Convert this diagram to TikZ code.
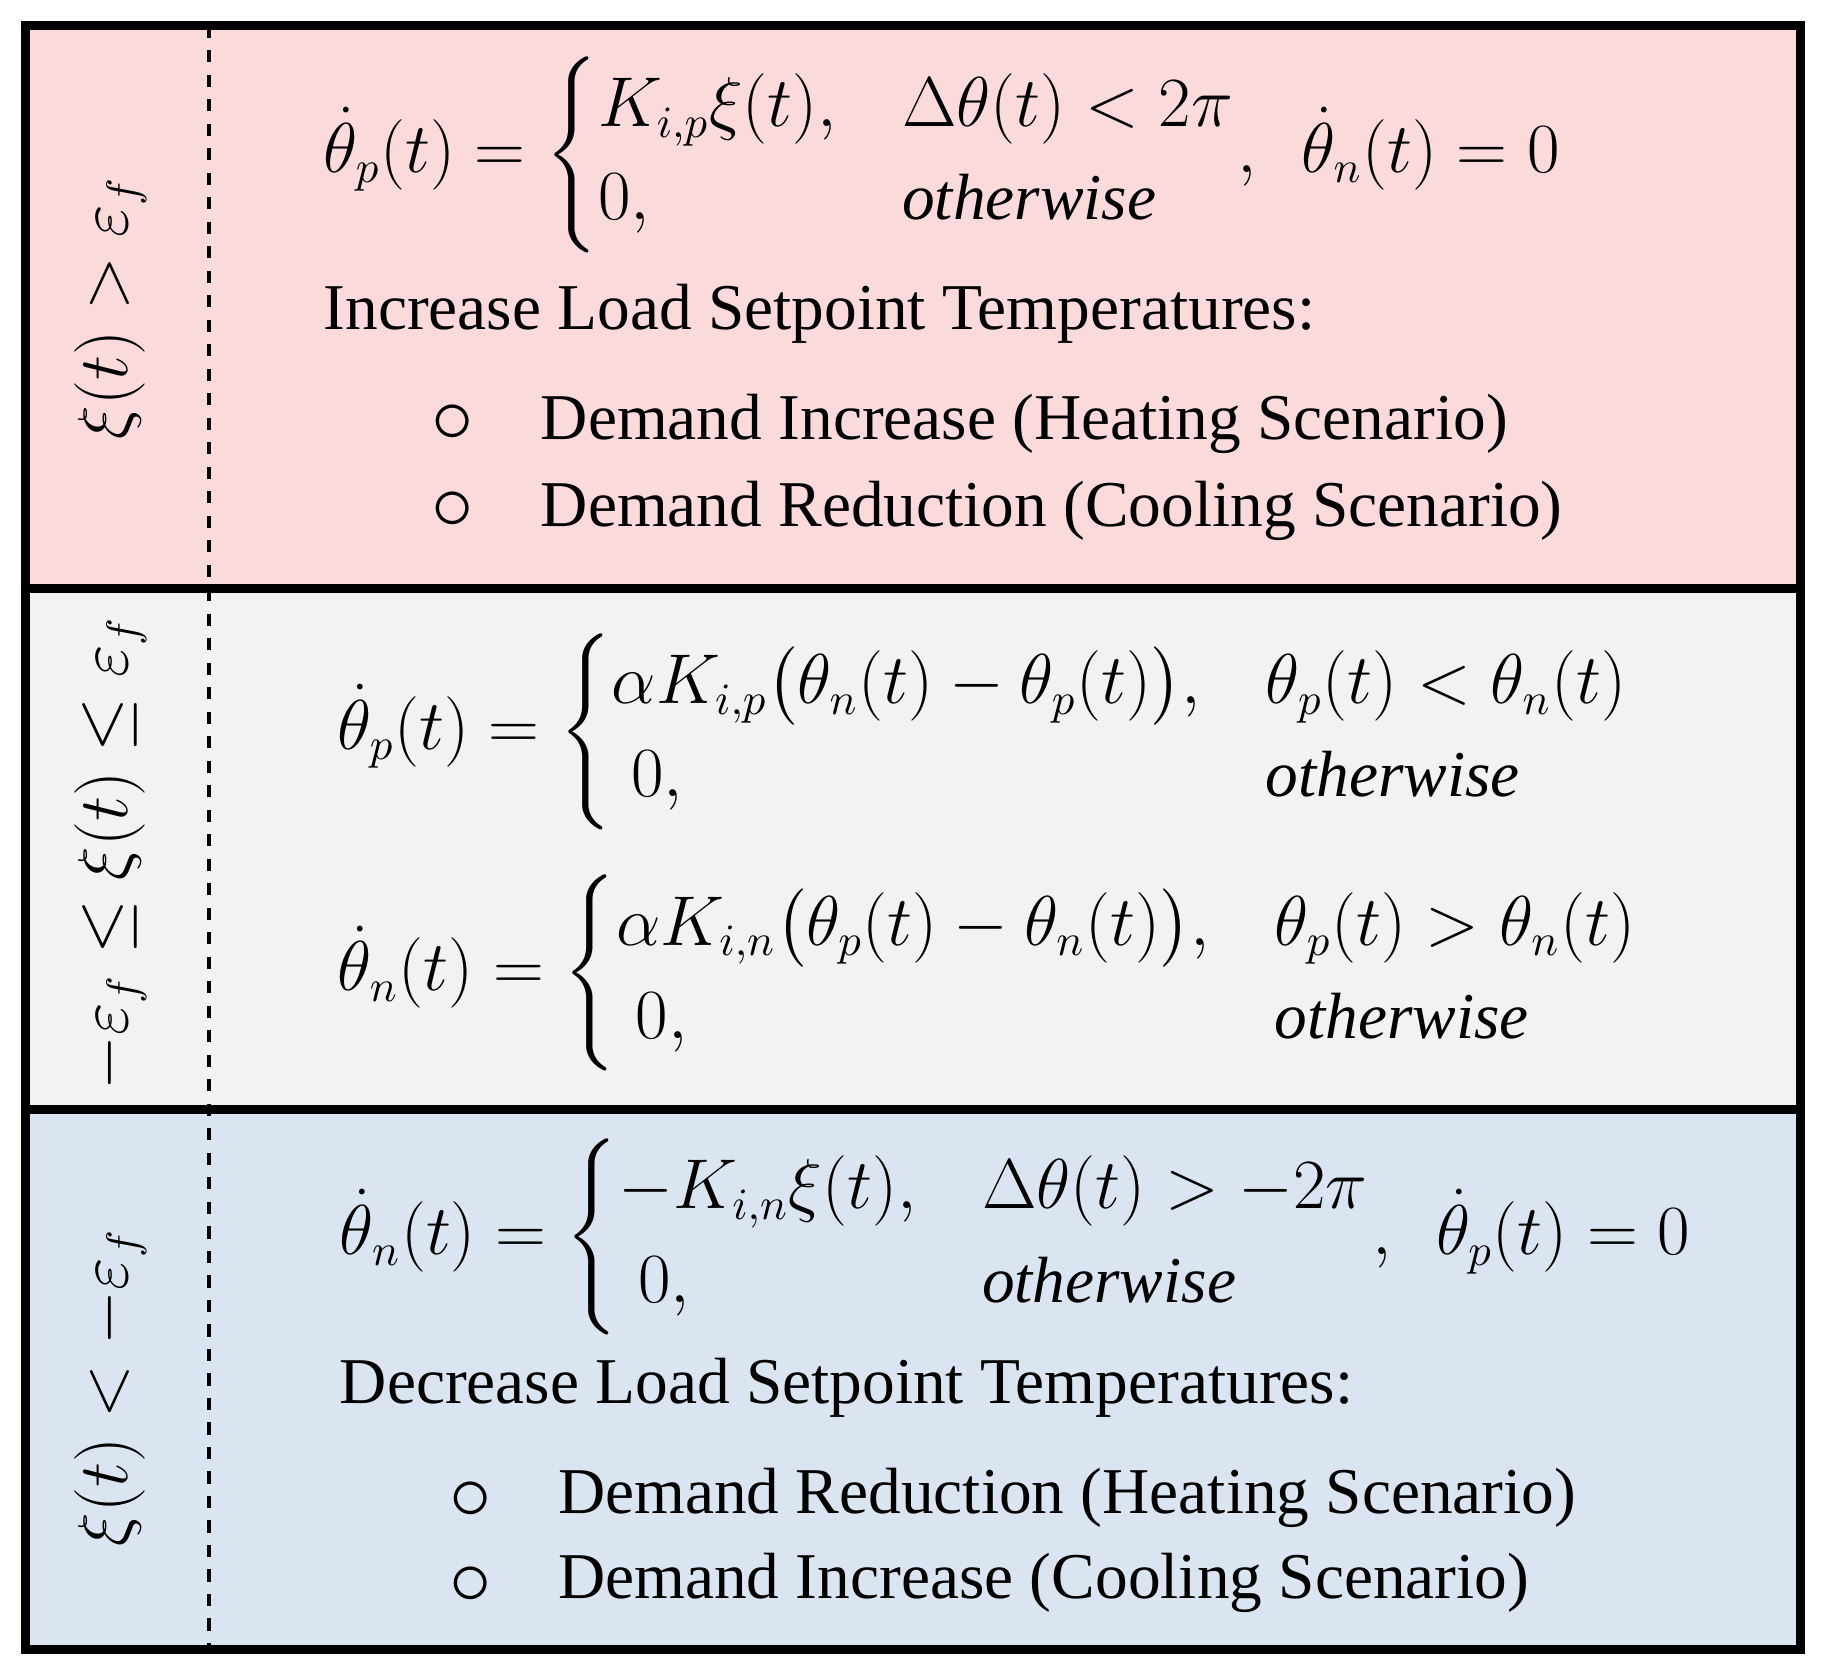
\documentclass[tikz,border=0pt]{standalone}
\usepackage{amsmath, amssymb}
\usepackage{fontspec}
\setmainfont{Liberation Serif}
\usepackage{xcolor}
\usetikzlibrary{positioning}
\definecolor{pinkfill}{HTML}{FADADB}
\definecolor{grayfill}{HTML}{F2F2F2}
\definecolor{bluefill}{HTML}{DAE5F1}
\tikzset{
  txt/.style = {anchor=west, inner sep=0pt, font=\fontsize{16}{19}\selectfont},
  side/.style = {rotate=90, inner sep=0pt, font=\fontsize{16}{19}\selectfont},
  bul/.style = {inner sep=0pt, font=\fontsize{20}{22}\selectfont}
}
\begin{document}
\begin{tikzpicture}[x=0.01cm, y=-0.01cm]
    \useasboundingbox (0,0) rectangle (1568,1443);
    % panels
    \fill [pinkfill] (22,22) rectangle (1550,507);
    \fill [grayfill] (22,507) rectangle (1550,955);
    \fill [bluefill] (22,955) rectangle (1550,1420);
    \draw [line width=2.2pt] (22,22) rectangle (1550,1420);
    \draw [line width=2.2pt] (22,507) -- (1550,507);
    \draw [line width=2.2pt] (22,955) -- (1550,955);
    \draw [line width=1pt, dashed] (180,22) -- (180,1420);
    % side labels
    \node (c1) [side] at (95,265) {$\xi(t) > \varepsilon_f$};
    \node (c2) [side] at (95,735) {$-\varepsilon_f \le \xi(t) \le \varepsilon_f$};
    \node (c3) [side] at (95,1195) {$\xi(t) < -\varepsilon_f$};
    % top panel
    \node (eq1) [txt] at (278,133) {$\dot{\theta}_p(t) = \begin{cases} K_{i,p}\xi(t), & \Delta\theta(t) < 2\pi \\ 0, & \mathit{otherwise} \end{cases}\!,\ \ \dot{\theta}_n(t) = 0$};
    \node (inc) [txt] at (278,270) {Increase Load Setpoint Temperatures:};
    \node (b1) [bul] at (390,365) {$\circ$};
    \node (b2) [bul] at (390,440) {$\circ$};
    \node (t1) [txt] at (465,365) {Demand Increase (Heating Scenario)};
    \node (t2) [txt] at (465,440) {Demand Reduction (Cooling Scenario)};
    % middle panel
    \node (eq2) [txt] at (290,630) {$\dot{\theta}_p(t) = \begin{cases} \alpha K_{i,p}\bigl(\theta_n(t) - \theta_p(t)\bigr), & \theta_p(t) < \theta_n(t) \\ \;0, & \mathit{otherwise} \end{cases}$};
    \node (eq3) [txt] at (290,838) {$\dot{\theta}_n(t) = \begin{cases} \alpha K_{i,n}\bigl(\theta_p(t) - \theta_n(t)\bigr), & \theta_p(t) > \theta_n(t) \\ \;0, & \mathit{otherwise} \end{cases}$};
    % bottom panel
    \node (eq4) [txt] at (292,1065) {$\dot{\theta}_n(t) = \begin{cases} -K_{i,n}\xi(t), & \Delta\theta(t) > -2\pi \\ \;0, & \mathit{otherwise} \end{cases}\!,\ \ \dot{\theta}_p(t) = 0$};
    \node (dec) [txt] at (292,1195) {Decrease Load Setpoint Temperatures:};
    \node (b3) [bul] at (405,1292) {$\circ$};
    \node (b4) [bul] at (405,1365) {$\circ$};
    \node (t3) [txt] at (480,1290) {Demand Reduction (Heating Scenario)};
    \node (t4) [txt] at (480,1363) {Demand Increase (Cooling Scenario)};
\end{tikzpicture}
\end{document}
